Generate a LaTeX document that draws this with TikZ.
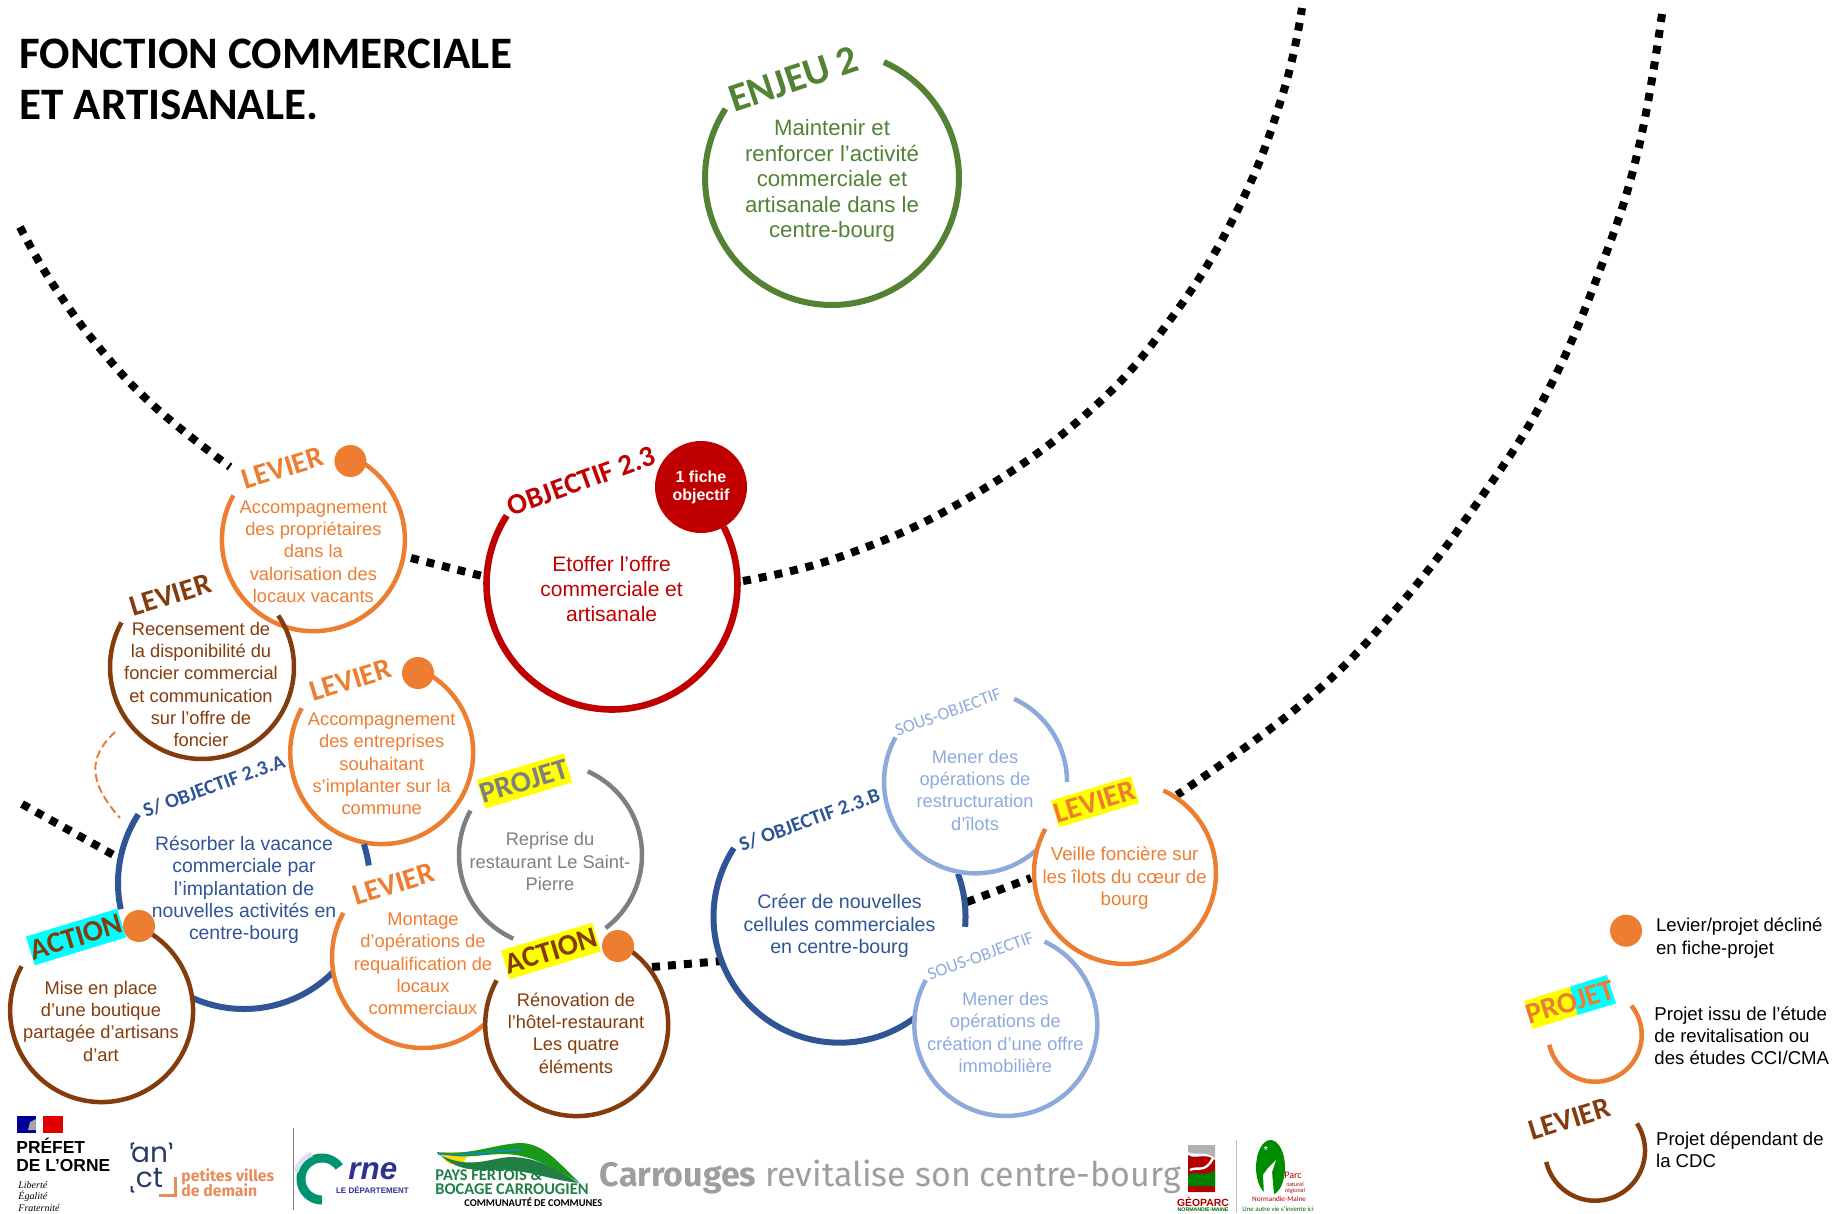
\documentclass[tikz,border=0pt]{standalone}
\usepackage{fontspec}
\setmainfont{Liberation Sans}
\newfontfamily\labf{Carlito}
\newfontfamily\firaf{Fira Sans}
\newfontfamily\popf{Poppins}
\newfontfamily\serf{Liberation Serif}
\usetikzlibrary{calc}
\definecolor{cOr}{HTML}{ED7D31}
\definecolor{cBr}{HTML}{843C0C}
\definecolor{cBl}{HTML}{2F5597}
\definecolor{cLb}{HTML}{8EA9DB}
\definecolor{cGn}{HTML}{548235}
\definecolor{cRd}{HTML}{C00000}
\definecolor{cGy}{HTML}{7F7F7F}
\definecolor{cCy}{HTML}{00FFFF}
\definecolor{cYe}{HTML}{FFFF00}
\definecolor{cNavy}{HTML}{2E3192}
\definecolor{cTeal}{HTML}{00936F}
\definecolor{cPf}{HTML}{1F7F45}
\newcommand\ringarc[6]{\draw[#1] plot[domain=#5:#6,samples=90,variable=\t] ({#2+#4*cos(\t)},{#3-#4*sin(\t)});}
\tikzset{
  x=.5pt,y=-.5pt,
  thinring/.style={line width=2.25pt},
  midring/.style={line width=3pt},
  bigring/.style={line width=3.3pt},
  dotline/.style={line width=4pt,black,dash pattern=on 4pt off 4pt},
  body/.style={align=center,inner sep=0pt,font=\fontsize{9.15}{11.15}\selectfont},
  lev/.style={rotate=17,inner sep=0pt,font=\labf\fontsize{14.8}{15}\bfseries\selectfont},
  sobj/.style={rotate=20,inner sep=0pt,font=\labf\fontsize{10.2}{11}\bfseries\selectfont,text=cBl},
  sous/.style={rotate=20,inner sep=0pt,font=\labf\fontsize{8.9}{10}\selectfont,text=cLb},
  tagbox/.style={lev,minimum width=43.5pt,minimum height=15pt},
  fdot/.style={circle,fill=cOr,draw=none,minimum size=16pt,inner sep=0pt},
  legt/.style={align=left,anchor=west,inner sep=0pt,font=\fontsize{9.3}{11.15}\selectfont},
}
\begin{document}
\begin{tikzpicture}
\useasboundingbox (0,0) rectangle (1841,1214);
% dotted arcs
\draw[dotline] plot[smooth,tension=.7] coordinates {(20,227)(52,283)(99.5,348)(155,407)(230,467)};
\coordinate (d1) at (411,558); \coordinate (d2) at (482,576);
\draw[dotline] (d1) -- (d2);
\draw[dotline] plot[smooth,tension=.7] coordinates {(743,581)(842.5,556)(965,500)(1087.4,413)(1173,316)(1240.5,204)(1283.4,92)(1302,8)};
\draw[dotline] plot[smooth,tension=.7] coordinates {(1662,14)(1638.6,148)(1601.8,265)(1546.7,393)(1479.3,500)(1393.6,612)(1301.7,704)(1177,795)};
\coordinate (d3) at (967,902); \coordinate (d4) at (1031,878);
\draw[dotline] (d3) -- (d4);
\coordinate (d5) at (652,967); \coordinate (d6) at (722,961);
\draw[dotline] (d5) -- (d6);
\coordinate (d7) at (22,804); \coordinate (d8) at (119,858);
\draw[dotline] (d7) -- (d8);
\coordinate (da) at (115,732); \coordinate (db) at (120,818);
\draw[cOr,line width=1pt,dash pattern=on 4pt off 2pt] (da) .. controls (88,757) and (88,782) .. (db);

% title
\node[anchor=base west,inner sep=0pt,font=\labf\fontsize{22.5}{25}\bfseries\selectfont] (title1) at (19,69) {FONCTION COMMERCIALE};
\node[anchor=base west,inner sep=0pt,font=\labf\fontsize{22.5}{25}\bfseries\selectfont] (title2) at (19,119.5) {ET ARTISANALE.};

% Enjeu
\ringarc{cGn,line width=3pt}{832}{178}{127}{65.9}{-213}
\node[rotate=18.5,inner sep=0pt,text=cGn,font=\labf\fontsize{20}{21}\bfseries\selectfont] (enjeu) at (793.5,79) {ENJEU 2};
\node[body,text=cGn,font=\fontsize{11.1}{12.8}\selectfont] (enjeut) at (832,181) {Maintenir et\\renforcer l’activité\\commerciale et\\artisanale dans le\\centre-bourg};

% Objectif
\ringarc{cRd,bigring}{612}{584}{125.5}{147}{387}
\node[fdot,fill=cRd,minimum size=46pt,align=center,text=white,font=\fontsize{8}{9}\bfseries\selectfont] (fiche) at (701,487) {1 fiche\\objectif};
\node[rotate=20,inner sep=0pt,text=cRd,font=\labf\fontsize{14.6}{15}\bfseries\selectfont] (objl) at (581.5,481) {OBJECTIF 2.3};
\node[body,text=cRd,font=\fontsize{10.5}{12.5}\selectfont] (objt) at (611.6,589) {Etoffer l’offre\\commerciale et\\artisanale};

% Levier 1
\ringarc{cOr,thinring}{313.4}{539.7}{91.5}{65}{-209}
\node[fdot] (dot1) at (350.4,461) {};
\node[lev,text=cOr] (l1) at (282.6,468) {LEVIER};
\node[body,text=cOr] (t1) at (313.4,551.7) {Accompagnement\\des propriétaires\\dans la\\valorisation des\\locaux vacants};

% Levier brown 2
\ringarc{cBr,thinring}{202}{667}{92}{151}{394}
\node[lev,text=cBr] (l2) at (170.5,595) {LEVIER};
\node[body,text=cBr] (t2) at (201,684.5) {Recensement de\\la disponibilité du\\foncier commercial\\et communication\\sur l’offre de\\foncier};

% Levier 3
\ringarc{cOr,thinring}{381.7}{752.6}{91.5}{65}{-209}
\node[fdot] (dot3) at (418,673) {};
\node[lev,text=cOr] (l3) at (351,680) {LEVIER};
\node[body,text=cOr] (t3) at (381.7,764) {Accompagnement\\des entreprises\\souhaitant\\s’implanter sur la\\commune};

% S/objectif A
\ringarc{cBl,midring}{244}{883}{126}{147}{192}
\ringarc{cBl,midring}{244}{883}{126}{245}{315}
\ringarc{cBl,midring}{244}{883}{126}{18}{8}
\node[sobj] (sa) at (214,786) {S/ OBJECTIF 2.3.A};
\node[body,text=cBl,font=\fontsize{9.7}{11.15}\selectfont] (ta) at (244,890) {Résorber la vacance\\commerciale par\\l’implantation de\\nouvelles activités en\\centre-bourg};

% Action left
\ringarc{cBr,thinring}{101.6}{1010.6}{91.5}{65}{-209}
\node[fdot] (dot4) at (139,926) {};
\node[tagbox,fill=cCy,text=cBr] (a1) at (76,937) {ACTION};
\node[body,text=cBr] (ta1) at (101,1021) {Mise en place\\d’une boutique\\partagée d’artisans\\d’art};

% Montage
\ringarc{cOr,thinring}{423}{957}{91}{151}{312}
\node[lev,text=cOr] (l4) at (394,884) {LEVIER};
\node[body,text=cOr] (t4) at (423,964) {Montage\\d’opérations de\\requalification de\\locaux\\commerciaux};

% Projet gray
\ringarc{cGy,thinring}{550.5}{855}{91.5}{66}{-53}
\ringarc{cGy,thinring}{550.5}{855}{91.5}{151}{246}
\node[tagbox,fill=cYe,text=cGy] (pj) at (524.5,781) {PROJET};
\node[body,text=cGy] (tpj) at (550,861.5) {Reprise du\\restaurant Le Saint-\\Pierre};

% Action right
\ringarc{cBr,thinring}{576.7}{1024.6}{91.5}{65}{-209}
\node[fdot] (dot5) at (618,946) {};
\node[tagbox,fill=cYe,text=cBr] (a2) at (551,951) {ACTION};
\node[body,text=cBr] (ta2) at (576,1033) {Rénovation de\\l’hôtel-restaurant\\Les quatre\\éléments};

% S/objectif B
\ringarc{cBl,midring}{839.5}{916.7}{126}{147}{307}
\ringarc{cBl,midring}{839.5}{916.7}{126}{20}{-4.6}
\node[sobj] (sb) at (809.5,820) {S/ OBJECTIF 2.3.B};
\node[body,text=cBl,font=\fontsize{9.8}{11.15}\selectfont] (tb) at (839.5,926) {Créer de nouvelles\\cellules commerciales\\en centre-bourg};

% Sous-objectif 1
\ringarc{cLb,thinring}{975.5}{781.8}{91.5}{65}{0}
\ringarc{cLb,thinring}{975.5}{781.8}{91.5}{151}{312}
\node[sous] (s1) at (948,712.3) {SOUS-OBJECTIF};
\node[body,text=cLb] (ts1) at (975,790.3) {Mener des\\opérations de\\restructuration\\d’îlots};

% Sous-objectif 2
\ringarc{cLb,thinring}{1005.8}{1024.5}{91.5}{65}{-209}
\node[sous] (s2) at (980.6,956) {SOUS-OBJECTIF};
\node[body,text=cLb] (ts2) at (1005.4,1032.3) {Mener des\\opérations de\\création d’une offre\\immobilière};

% Levier veille
\ringarc{cOr,thinring}{1125}{873}{91}{65}{-209}
\node[tagbox,fill=cYe,text=cOr,minimum width=39.5pt,minimum height=14pt] (l5) at (1095,801.7) {LEVIER};
\node[body,text=cOr,font=\fontsize{9.35}{11.15}\selectfont] (t5) at (1124.6,878.3) {Veille foncière sur\\les îlots du cœur de\\bourg};

% Legend
\node[fdot] (ld1) at (1626,930.7) {};
\node[legt] (lt1) at (1655.7,938) {Levier/projet décliné\\en fiche-projet};
\fill[cYe] (1524,1001) -- (1570,986.7) -- (1577.7,1015) -- (1532.7,1029) -- cycle;
\fill[cCy] (1570,986.7) -- (1606.7,975) -- (1616,1003.3) -- (1577.7,1015) -- cycle;
\node[lev,text=cOr] (lp) at (1570,1002) {PROJET};
\ringarc{cOr,thinring}{1595}{1035}{46.7}{39}{-168}
\node[legt] (lt2) at (1654,1035.7) {Projet issu de l’étude\\de revitalisation ou\\des études CCI/CMA};
\node[lev,text=cBr] (ll) at (1570,1119) {LEVIER};
\ringarc{cBr,thinring}{1595}{1150.7}{50}{33}{-167}
\node[legt] (lt3) at (1655.7,1150) {Projet dépendant de\\la CDC};

% --- logos ---
% Prefet
\fill[blue!60!black] (16.5,1116) rectangle (36,1133);
\fill[red!88!black] (43,1116) rectangle (62.5,1133);
\fill[black!35] (30,1122) -- (36,1119) -- (36,1130) -- (28,1130) -- cycle;
\node[anchor=base west,inner sep=0pt,font=\fontsize{8.7}{9}\bfseries\selectfont] (p1) at (16,1153) {PRÉFET};
\node[anchor=base west,inner sep=0pt,font=\fontsize{8.7}{9}\bfseries\selectfont] (p2) at (16,1171.7) {DE L’ORNE};
\node[anchor=west,inner sep=0pt,font=\serf\itshape\fontsize{5}{6}\selectfont] (p3) at (18,1185) {Liberté};
\node[anchor=west,inner sep=0pt,font=\serf\itshape\fontsize{5}{6}\selectfont] (p4) at (18,1196.7) {Égalité};
\node[anchor=west,inner sep=0pt,font=\serf\itshape\fontsize{5}{6}\selectfont] (p5) at (18,1208) {Fraternité};
% anct
\definecolor{cAn}{HTML}{2B3A67}
\definecolor{cPv}{HTML}{E98B5C}
\node[inner sep=0pt,text=cAn,font=\popf\fontsize{14}{14}\selectfont] (an1) at (149.5,1155) {an};
\node[inner sep=0pt,text=cAn,font=\popf\fontsize{14}{14}\selectfont] (an2) at (149.5,1178) {ct};
\draw[cAn,line width=1pt] (131.7,1149) -- (131.7,1144) -- (134,1143);
\draw[cAn,line width=1pt] (171,1149) -- (171,1144) -- (169,1143);
\draw[cAn,line width=1pt] (131.7,1186) -- (131.7,1191) -- (134,1192);
\draw[cPv,line width=1.6pt] (158.5,1195.7) -- (175.4,1195.7) -- (175.4,1176.7);
\node[anchor=west,inner sep=0pt,text=cPv,font=\firaf\fontsize{7.9}{8}\bfseries\selectfont] (pv1) at (181,1176.7) {petites villes};
\node[anchor=west,inner sep=0pt,text=cPv,font=\firaf\fontsize{7.9}{8}\bfseries\selectfont] (pv2) at (181,1190.7) {de demain};
\draw[gray,line width=.5pt] (293.3,1128) -- (293.3,1210);
% Orne
\ringarc{cTeal,line width=4.5pt}{322}{1179}{21}{35}{270}
\ringarc{cyan!25!blue!12!white,line width=2.5pt}{322}{1179}{27}{112}{165}
\node[anchor=west,inner sep=0pt,text=cNavy,font=\bfseries\itshape\fontsize{15.7}{16}\selectfont] (or1) at (348,1171) {rne};
\node[anchor=west,inner sep=0pt,text=cNavy,font=\bfseries\fontsize{4}{5}\selectfont] (or2) at (335.7,1190) {LE DÉPARTEMENT};
% Pays fertois
\fill[yellow!80!orange] (442,1152) arc[start angle=180,end angle=0,radius=13];
\fill[green!55!black!90] (437,1152) .. controls (470,1156) and (495,1144) .. (520,1143) .. controls (545,1143) and (560,1165) .. (579,1182) .. controls (555,1170) and (535,1155) .. (505,1154) .. controls (480,1154) and (465,1160) .. (437,1153) -- cycle;
\fill[cPf] (440,1155) .. controls (470,1170) and (490,1158) .. (510,1157) .. controls (540,1157) and (560,1172) .. (579,1183) .. controls (550,1180) and (530,1170) .. (500,1170) .. controls (475,1170) and (460,1172) .. (440,1155) -- cycle;
\draw[cyan!70!blue,line width=.8pt] (438,1154) .. controls (470,1156) and (495,1150) .. (522,1150);
\node[anchor=west,inner sep=0pt,text=cPf,font=\labf\fontsize{8.2}{9}\bfseries\selectfont] (pf1) at (435,1175) {PAYS FERTOIS \&};
\node[anchor=west,inner sep=0pt,text=cPf,font=\labf\fontsize{8.2}{9}\bfseries\selectfont] (pf2) at (435,1189) {BOCAGE CARROUGIEN};
\node[anchor=west,inner sep=0pt,font=\labf\fontsize{5.2}{6}\bfseries\selectfont] (pf3) at (464,1202) {COMMUNAUTÉ DE COMMUNES};
% Carrouges
\node[anchor=west,inner sep=0pt,text=black!38,font=\firaf\fontsize{17}{18}\selectfont] (carr) at (599.4,1176.7) {\textbf{Carrouges} revitalise son centre-bourg};
% Geoparc
\fill[black!30] (1188,1145) -- (1215,1145) -- (1215,1158) .. controls (1205,1150) and (1195,1156) .. (1188,1152) -- cycle;
\fill[red!70!black] (1188,1155) .. controls (1195,1160) and (1205,1152) .. (1215,1160) -- (1215,1192) -- (1188,1192) -- cycle;
\fill[green!50!black] (1188,1175) .. controls (1195,1170) and (1205,1178) .. (1215,1170) -- (1215,1186) -- (1188,1186) -- cycle;
\draw[white,line width=1.2pt] (1190,1170) .. controls (1197,1166) and (1205,1174) .. (1213,1158);
\node[inner sep=0pt,text=red!70!black,font=\bfseries\fontsize{5.2}{6}\selectfont] (geo1) at (1203,1201.7) {GÉOPARC};
\node[inner sep=0pt,text=green!40!black,font=\bfseries\fontsize{2.6}{3}\selectfont] (geo2) at (1203,1210) {NORMANDIE-MAINE};
\draw[black!25,line width=.4pt] (1236.8,1140) -- (1236.8,1213);
% Parc
\fill[green!55!black] (1270.5,1167.5) ellipse[x radius=14.5,y radius=27.5];
\fill[white] (1264,1195) -- (1263,1175) -- (1268,1168) -- (1276,1160) -- (1272,1172) -- (1274,1195) -- cycle;
\node[inner sep=0pt,text=white,font=\fontsize{6}{6}\selectfont] (pn0) at (1266,1150) {*};
\node[inner sep=0pt,text=red!70!black,font=\labf\fontsize{5}{5}\selectfont] (pn1) at (1293,1175) {Parc};
\node[inner sep=0pt,text=red!70!black,font=\labf\fontsize{3}{3}\selectfont] (pn2) at (1295,1184) {naturel};
\node[inner sep=0pt,text=red!70!black,font=\labf\fontsize{3}{3}\selectfont] (pn3) at (1295,1191) {régional};
\node[inner sep=0pt,text=red!70!black,font=\labf\fontsize{3.6}{4}\selectfont] (pn4) at (1279,1199) {Normandie-Maine};
\node[inner sep=0pt,text=green!40!black,font=\labf\fontsize{3.4}{4}\selectfont] (pn5) at (1278,1209) {Une autre vie s’invente ici};
\end{tikzpicture}
\end{document}
